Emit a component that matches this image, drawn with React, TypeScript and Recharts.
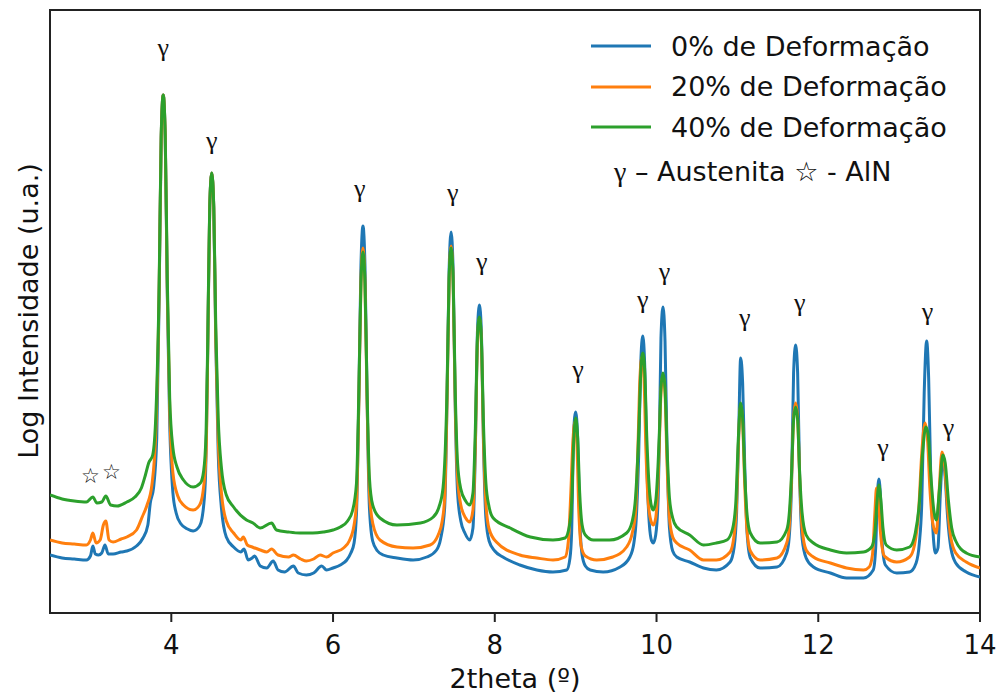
import { Line, LineChart, ReferenceArea, ReferenceDot, XAxis, YAxis } from "recharts";

// [2theta, log intensity]
const deform0: [number, number][] = [
  [2.5, 58], [2.65, 55], [2.8, 54], [2.95, 53], [3.0, 57], [3.03, 67], [3.06, 59], [3.1, 58],
  [3.14, 60], [3.18, 68], [3.22, 59], [3.28, 59], [3.38, 61], [3.45, 62], [3.57, 67], [3.65, 75],
  [3.71, 88], [3.74, 110], [3.78, 125], [3.82, 175], [3.85, 320], [3.875, 475], [3.9, 518],
  [3.925, 475], [3.95, 320], [3.98, 190], [4.02, 120], [4.06, 100], [4.12, 89], [4.2, 84],
  [4.27, 82], [4.35, 87], [4.38, 95], [4.42, 130], [4.45, 260], [4.475, 405], [4.5, 440],
  [4.525, 405], [4.55, 270], [4.58, 160], [4.62, 105], [4.68, 76], [4.77, 66], [4.86, 61],
  [4.9, 64], [4.95, 53], [5.0, 55], [5.03, 57], [5.1, 47], [5.18, 45], [5.26, 52], [5.32, 43],
  [5.4, 41], [5.51, 47], [5.57, 40], [5.67, 38], [5.76, 40], [5.86, 47], [5.92, 43], [6.0, 45],
  [6.09, 48], [6.17, 53], [6.22, 60], [6.26, 70], [6.29, 100], [6.32, 220], [6.345, 347],
  [6.37, 387], [6.395, 347], [6.42, 220], [6.45, 105], [6.49, 72], [6.55, 62], [6.62, 58],
  [6.79, 55], [6.99, 53], [7.16, 56], [7.28, 63], [7.33, 74], [7.38, 105], [7.41, 215],
  [7.435, 342], [7.46, 381], [7.485, 342], [7.51, 210], [7.54, 120], [7.58, 92], [7.63, 80],
  [7.69, 73], [7.73, 85], [7.76, 165], [7.785, 280], [7.81, 308], [7.835, 280], [7.86, 170],
  [7.89, 95], [7.93, 72], [8.0, 62], [8.1, 56], [8.31, 48], [8.52, 43], [8.72, 41], [8.89, 43],
  [8.93, 55], [8.95, 80], [8.975, 180], [9.0, 201], [9.025, 175], [9.05, 95], [9.08, 58],
  [9.12, 47], [9.18, 43], [9.34, 41], [9.55, 46], [9.67, 56], [9.72, 70], [9.75, 95], [9.78, 160],
  [9.805, 250], [9.83, 277], [9.855, 245], [9.88, 150], [9.91, 90], [9.94, 72], [9.96, 70],
  [9.99, 78], [10.02, 115], [10.035, 170], [10.055, 275], [10.08, 306], [10.105, 272],
  [10.13, 165], [10.16, 85], [10.2, 62], [10.25, 56], [10.41, 51], [10.58, 45], [10.74, 43],
  [10.91, 51], [10.96, 66], [10.99, 100], [11.015, 175], [11.04, 255], [11.065, 230],
  [11.09, 150], [11.12, 80], [11.16, 55], [11.28, 45], [11.49, 46], [11.61, 60], [11.64, 75],
  [11.67, 130], [11.695, 240], [11.72, 268], [11.745, 240], [11.77, 135], [11.8, 75], [11.85, 55],
  [11.94, 46], [12.15, 40], [12.35, 35], [12.56, 35], [12.68, 43], [12.71, 65], [12.73, 115],
  [12.75, 134], [12.77, 115], [12.79, 70], [12.83, 48], [12.97, 40], [13.13, 41], [13.21, 50],
  [13.25, 70], [13.28, 110], [13.31, 220], [13.34, 272], [13.365, 235], [13.39, 140], [13.42, 80],
  [13.45, 60], [13.48, 65], [13.51, 120], [13.54, 156], [13.57, 135], [13.6, 95], [13.64, 65],
  [13.7, 50], [13.83, 41], [14.0, 36],
];

const deform20: [number, number][] = [
  [2.5, 73], [2.65, 70], [2.8, 69], [2.95, 68], [3.0, 73], [3.03, 80], [3.07, 70], [3.12, 73],
  [3.16, 88], [3.19, 92], [3.23, 73], [3.28, 71], [3.38, 74], [3.45, 76], [3.57, 83], [3.64, 96],
  [3.7, 108], [3.76, 128], [3.81, 185], [3.85, 325], [3.875, 475], [3.9, 518], [3.925, 475],
  [3.95, 325], [3.98, 205], [4.02, 140], [4.08, 117], [4.15, 108], [4.27, 103], [4.35, 108],
  [4.39, 120], [4.43, 160], [4.45, 260], [4.475, 405], [4.5, 440], [4.525, 405], [4.55, 275],
  [4.58, 175], [4.62, 120], [4.68, 92], [4.77, 80], [4.86, 73], [4.89, 76], [4.94, 68], [5.0, 66],
  [5.1, 63], [5.18, 61], [5.24, 64], [5.32, 58], [5.45, 56], [5.51, 58], [5.6, 54], [5.67, 52],
  [5.76, 54], [5.84, 58], [5.92, 56], [6.0, 60], [6.13, 65], [6.2, 72], [6.26, 88], [6.29, 110],
  [6.32, 215], [6.345, 330], [6.37, 365], [6.395, 328], [6.42, 215], [6.45, 120], [6.49, 90],
  [6.58, 73], [6.79, 66], [6.99, 65], [7.2, 68], [7.3, 78], [7.35, 92], [7.38, 115], [7.41, 215],
  [7.435, 330], [7.46, 367], [7.485, 330], [7.51, 215], [7.54, 135], [7.58, 108], [7.64, 95],
  [7.69, 91], [7.73, 103], [7.76, 170], [7.785, 270], [7.81, 295], [7.835, 270], [7.86, 175],
  [7.89, 110], [7.93, 84], [8.02, 71], [8.31, 58], [8.52, 55], [8.72, 53], [8.87, 56], [8.91, 72],
  [8.94, 120], [8.965, 170], [8.99, 191], [9.015, 170], [9.04, 100], [9.07, 66], [9.12, 57],
  [9.26, 53], [9.46, 56], [9.63, 66], [9.7, 80], [9.74, 100], [9.77, 165], [9.795, 235],
  [9.82, 256], [9.845, 235], [9.87, 160], [9.9, 108], [9.94, 90], [9.96, 88], [9.99, 95],
  [10.02, 135], [10.035, 170], [10.055, 220], [10.08, 237], [10.105, 220], [10.13, 150],
  [10.16, 95], [10.2, 76], [10.25, 70], [10.41, 63], [10.58, 53], [10.74, 53], [10.91, 61],
  [10.96, 78], [10.99, 110], [11.015, 175], [11.04, 208], [11.065, 190], [11.09, 130],
  [11.12, 82], [11.16, 62], [11.28, 53], [11.49, 55], [11.61, 70], [11.64, 85], [11.67, 135],
  [11.695, 195], [11.72, 210], [11.745, 195], [11.77, 135], [11.8, 85], [11.85, 63], [11.94, 56],
  [12.15, 50], [12.35, 45], [12.56, 43], [12.63, 46], [12.67, 58], [12.7, 100], [12.72, 125],
  [12.745, 112], [12.77, 80], [12.81, 58], [12.83, 56], [12.97, 51], [13.13, 56], [13.19, 68],
  [13.24, 100], [13.28, 160], [13.32, 190], [13.35, 175], [13.38, 125], [13.42, 88], [13.46, 80],
  [13.49, 115], [13.53, 161], [13.56, 150], [13.6, 105], [13.64, 75], [13.7, 60], [13.83, 51],
  [14.0, 45],
];

const deform40: [number, number][] = [
  [2.5, 118], [2.65, 114], [2.8, 112], [2.95, 111], [3.03, 116], [3.08, 110], [3.14, 111],
  [3.19, 117], [3.25, 108], [3.33, 107], [3.45, 111], [3.55, 116], [3.63, 125], [3.68, 138],
  [3.72, 150], [3.77, 158], [3.81, 200], [3.85, 330], [3.875, 478], [3.9, 518], [3.925, 478],
  [3.95, 335], [3.98, 215], [4.02, 165], [4.07, 146], [4.15, 133], [4.27, 126], [4.36, 130],
  [4.4, 142], [4.43, 180], [4.45, 270], [4.475, 407], [4.5, 440], [4.525, 407], [4.55, 285],
  [4.58, 195], [4.62, 145], [4.68, 118], [4.77, 106], [4.93, 93], [5.01, 90], [5.1, 85],
  [5.24, 90], [5.3, 83], [5.45, 81], [5.59, 80], [5.75, 80], [5.88, 81], [6.0, 83], [6.09, 86],
  [6.18, 92], [6.24, 102], [6.29, 130], [6.32, 225], [6.345, 330], [6.37, 361], [6.395, 330],
  [6.42, 225], [6.45, 135], [6.49, 108], [6.58, 95], [6.79, 88], [7.08, 90], [7.24, 96],
  [7.31, 106], [7.36, 125], [7.41, 225], [7.435, 335], [7.46, 365], [7.485, 335], [7.51, 225],
  [7.54, 150], [7.58, 124], [7.64, 112], [7.69, 108], [7.73, 120], [7.76, 185], [7.785, 275],
  [7.81, 296], [7.835, 272], [7.86, 190], [7.89, 130], [7.93, 106], [7.98, 95], [8.19, 85],
  [8.44, 76], [8.72, 73], [8.87, 75], [8.92, 86], [8.95, 110], [8.975, 170], [9.0, 195],
  [9.025, 175], [9.05, 120], [9.08, 88], [9.12, 78], [9.22, 73], [9.42, 73], [9.63, 80],
  [9.7, 92], [9.74, 115], [9.78, 180], [9.805, 240], [9.83, 260], [9.855, 240], [9.88, 175],
  [9.91, 125], [9.94, 106], [9.96, 103], [9.99, 112], [10.02, 150], [10.035, 180], [10.055, 225],
  [10.08, 240], [10.105, 225], [10.13, 165], [10.16, 115], [10.2, 95], [10.25, 86], [10.41, 78],
  [10.58, 68], [10.74, 70], [10.87, 73], [10.94, 84], [10.98, 110], [11.015, 180], [11.04, 210],
  [11.065, 195], [11.09, 140], [11.12, 98], [11.16, 80], [11.28, 70], [11.49, 71], [11.61, 83],
  [11.64, 98], [11.67, 140], [11.695, 193], [11.72, 206], [11.745, 193], [11.77, 140],
  [11.8, 100], [11.85, 78], [11.94, 70], [12.15, 63], [12.35, 60], [12.56, 61], [12.66, 66],
  [12.7, 80], [12.725, 110], [12.75, 128], [12.775, 112], [12.8, 85], [12.84, 68], [12.97, 63],
  [13.13, 66], [13.2, 80], [13.25, 110], [13.29, 160], [13.33, 186], [13.36, 178], [13.39, 140],
  [13.43, 102], [13.46, 93], [13.5, 125], [13.54, 158], [13.57, 150], [13.61, 112], [13.65, 85],
  [13.7, 72], [13.83, 60], [14.0, 56],
];

const xTicks = [4, 6, 8, 10, 12, 14];

// peak markers: [2theta, height]
const austenitePeaks: [number, number][] = [
  [3.9, 566], [4.5, 473], [6.33, 425], [7.48, 421], [7.84, 352], [9.03, 244], [9.83, 314],
  [10.1, 342], [11.09, 296], [11.77, 311], [12.8, 166], [13.35, 302], [13.61, 186],
];
const alnPeaks: [number, number][] = [[3.0, 137], [3.26, 141]];

const series = [
  { name: "0% de Deformação", color: "#1f77b4", data: deform0 },
  { name: "20% de Deformação", color: "#ff7f0e", data: deform20 },
  { name: "40% de Deformação", color: "#2ca02c", data: deform40 },
];

const SANS = "'DejaVu Sans', sans-serif";
const SERIF = "'Liberation Serif', 'DejaVu Serif', serif";

function LegendBox() {
  return (
    <div
      style={{
        position: "absolute",
        top: 26,
        left: 591,
        fontFamily: SANS,
        fontSize: 27,
        color: "#111",
        whiteSpace: "nowrap",
      }}
    >
      {series.map((s) => (
        <div key={s.name} style={{ display: "flex", alignItems: "center", height: 40.5 }}>
          <svg width={60} height={10} style={{ marginRight: 20 }}>
            <line x1={0} y1={5} x2={60} y2={5} stroke={s.color} strokeWidth={3} />
          </svg>
          <span>{s.name}</span>
        </div>
      ))}
      <div style={{ marginTop: 4, marginLeft: 23, height: 40, display: "flex", alignItems: "center" }}>
        <span style={{ fontFamily: SERIF, fontSize: 28 }}>γ</span>
        <span>&nbsp;– Austenita ☆ - AlN</span>
      </div>
    </div>
  );
}

export default function App() {
  return (
    <div style={{ position: "absolute", left: 0, top: 0, width: 1000, height: 696, background: "#fff" }}>
      <LineChart width={1000} height={696} margin={{ top: 10, right: 20, bottom: 0, left: 50 }}>
        <XAxis
          type="number"
          dataKey="x"
          domain={[2.5, 14]}
          ticks={xTicks}
          allowDataOverflow
          height={83}
          tickSize={9}
          tickMargin={14}
          tick={{ fontFamily: SANS, fontSize: 26, fill: "#111" }}
          tickLine={{ stroke: "#222", strokeWidth: 2 }}
          axisLine={{ stroke: "#222", strokeWidth: 2 }}
          label={{
            value: "2theta (º)",
            position: "insideBottom",
            offset: 8,
            style: { fontFamily: SANS, fontSize: 27, fill: "#111" },
          }}
        />
        <YAxis type="number" dataKey="y" domain={[0, 603]} hide />
        <ReferenceArea
          x1={2.5}
          x2={14}
          y1={0}
          y2={603}
          fill="none"
          stroke="#222"
          strokeWidth={2}
          ifOverflow="visible"
        />
        {series.map((s) => (
          <Line
            key={s.name}
            name={s.name}
            type="monotone"
            data={s.data.map(([x, y]) => ({ x, y }))}
            dataKey="y"
            stroke={s.color}
            strokeWidth={3}
            dot={false}
            activeDot={false}
            isAnimationActive={false}
            strokeLinejoin="round"
          />
        ))}
        {austenitePeaks.map(([x, y], i) => (
          <ReferenceDot
            key={`g${i}`}
            x={x}
            y={y}
            r={1}
            fill="none"
            stroke="none"
            ifOverflow="visible"
            label={{ value: "γ", position: "center", style: { fontFamily: SERIF, fontSize: 26, fill: "#111" } }}
          />
        ))}
        {alnPeaks.map(([x, y], i) => (
          <ReferenceDot
            key={`s${i}`}
            x={x}
            y={y}
            r={1}
            fill="none"
            stroke="none"
            ifOverflow="visible"
            label={{ value: "☆", position: "center", style: { fontFamily: SANS, fontSize: 21, fill: "#111" } }}
          />
        ))}
      </LineChart>
      <LegendBox />
      <div
        style={{
          position: "absolute",
          left: 28,
          top: 311,
          transform: "translate(-50%, -50%) rotate(-90deg)",
          whiteSpace: "nowrap",
          fontFamily: SANS,
          fontSize: 27,
          color: "#111",
        }}
      >
        Log Intensidade (u.a.)
      </div>
    </div>
  );
}
